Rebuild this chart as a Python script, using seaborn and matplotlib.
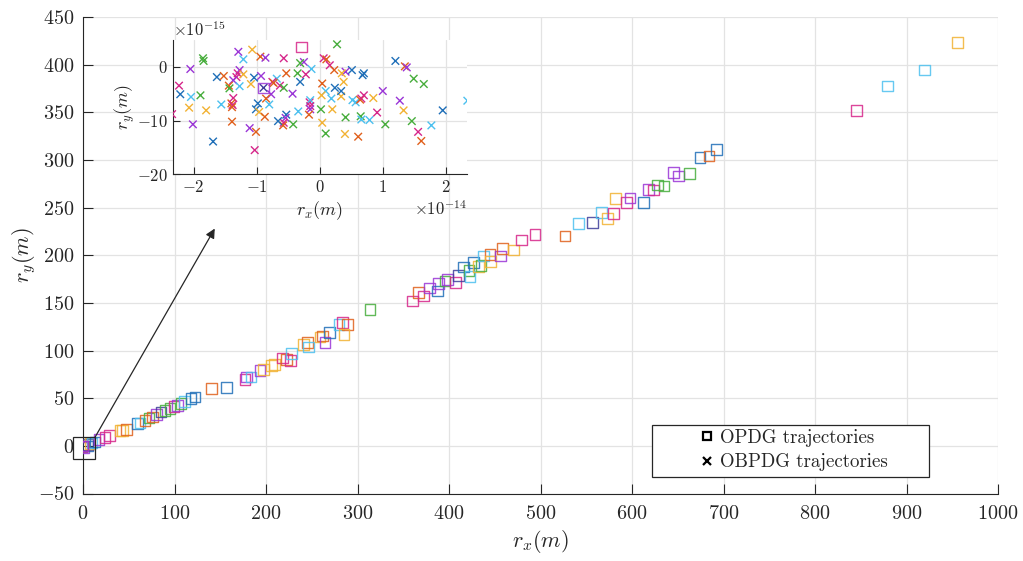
import numpy as np
import pandas as pd
import matplotlib
matplotlib.use("Agg")
import matplotlib.pyplot as plt
import seaborn as sns
from matplotlib.lines import Line2D
from matplotlib.patches import Rectangle

# ---------------------------------------------------------------- data
# trajectory colour table (index -> colour)
traj_colors = ["#1f6fb8", "#e0601c", "#f2b233", "#9a35d6",
               "#47ad3c", "#4cc0ef", "#d6268a", "#3d3d9a"]

# OPDG trajectory end points (m)
opdg_rx = [-1.4, 0.3, 1.0, 5.0, 4.7, 7.7, 10.0, 13.0, 17.5, 24.0, 28.8, 40.4, 43.4,
           47.7, 59.8, 62.3, 67.8, 72.1, 75.8, 80.5, 85.2, 89.6, 95.0, 99.5, 103.5,
           107.0, 110.7, 118.0, 122.4, 140.6, 157.0,
           177.0, 178.9, 183.6, 193.4, 197.0, 206.2, 209.0, 217.8, 222.6, 227.0, 228.0,
           240.8, 245.5, 246.2, 259.0, 261.5, 264.5, 269.2, 279.8, 283.4, 289.3, 285.2,
           313.7,
           359.9, 366.5, 372.0, 378.5, 387.6, 388.3, 395.6, 398.2, 407.3, 410.2, 415.6,
           421.9, 423.0, 426.6, 432.0, 435.0, 437.5, 444.8, 445.6, 456.5, 458.3, 470.3,
           479.5, 494.0, 526.8,
           541.3, 557.0, 566.9, 573.4, 579.6, 582.2, 594.2, 597.8, 612.4, 617.8, 623.3,
           627.7, 635.0, 645.2, 650.6, 662.6, 674.3, 684.2, 692.6,
           845.5, 879.0, 919.5, 956.0,
           -0.29e-14, -0.89e-14]
opdg_ry = [-1.4, -2.0, 0.0, 0.0, 1.2, 2.2, 3.0, 3.9, 6.4, 9.0, 10.9, 16.2, 16.2,
           17.2, 23.2, 23.8, 26.7, 29.1, 30.1, 32.6, 35.4, 37.2, 39.0, 41.4, 42.4,
           44.2, 46.6, 49.5, 51.2, 60.0, 61.0,
           69.4, 72.2, 72.2, 79.2, 80.3, 84.5, 85.5, 92.1, 90.8, 89.7, 96.7,
           106.2, 108.3, 103.7, 114.2, 115.2, 108.3, 118.8, 127.5, 129.3, 127.2, 117.0,
           143.0,
           152.0, 160.8, 157.2, 165.7, 162.5, 170.3, 173.0, 174.5, 171.3, 179.0, 187.7,
           184.2, 178.0, 192.3, 188.4, 189.5, 199.3, 201.0, 193.7, 199.0, 207.0, 205.3,
           215.8, 222.0, 220.3,
           233.3, 234.3, 244.8, 238.5, 243.8, 259.6, 255.4, 260.2, 255.4, 269.0, 268.3,
           273.5, 272.8, 286.9, 283.3, 285.8, 302.6, 304.0, 311.0,
           351.6, 377.5, 394.3, 423.0,
           3.7e-15, -3.9e-15]
opdg_traj = [6, 3, 4, 0, 7, 2, 5, 0, 3, 6, 6, 2, 2,
             1, 0, 5, 1, 4, 1, 3, 7, 4, 4, 6, 3,
             4, 5, 0, 0, 1, 0,
             6, 3, 5, 3, 2, 2, 2, 6, 1, 6, 5,
             2, 1, 5, 2, 1, 3, 0, 5, 6, 1, 2,
             4,
             6, 1, 6, 3, 0, 3, 4, 3, 6, 7, 0,
             4, 5, 0, 2, 4, 5, 1, 2, 3, 1, 2,
             6, 6, 1,
             5, 7, 5, 2, 6, 2, 6, 3, 0, 3, 6,
             4, 4, 3, 3, 4, 0, 1, 0,
             6, 5, 5, 2,
             6, 3]

# OBPDG trajectory end points (rx in 1e-14 m, ry in 1e-15 m)
obpdg_rx_e14 = [0.275, -1.07, -1.29, -0.94, -0.86, -0.57, -1.85, -1.84, -1.21, 0.063,
                0.106, -0.25, -0.31, 1.2, 1.35, 1.38, 0.16, -2.05, -0.13, 0.23,
                0.51, 0.41, 0.35, -0.22, -0.53, -0.35, 0.70, 0.68, -1.63, -1.52,
                -1.27, -1.30, -1.32, -1.21, -1.04, -0.93, -0.68, 1.49, 1.65, -1.37,
                -0.75, -0.73, -1.09, -0.31, 0.04, 0.38, 0.24, -0.63, -0.57, -1.44,
                -1.43, -0.89, -1.27, -2.21, -2.23, -1.89, -2.04, -0.77, -0.43, 0.095,
                0.03, 0.185, 0.34, 0.34, 1.0, 0.52, 0.57, 0.66, 0.64, 0.70,
                0.85, 1.27, 2.34, -2.07, -1.80, -1.56, -1.37, -1.40, -1.38, -1.39,
                -0.98, -1.01, -0.85, -0.80, -0.96, -0.87, -0.53, -0.54, -0.57, -0.58,
                -0.66, -0.42, -0.34, -0.16, -0.15, -0.15, -0.15, -0.17, 0.02, 0.20,
                0.04, 0.095, 0.41, 0.65, 0.66, 0.79, 0.91, 1.04, 1.33, 1.95,
                1.46, 1.77, 1.56, 1.61, 0.40, 0.61, -2.01, -1.39, -1.11, -1.01,
                -1.69, -1.03, -2.34]
obpdg_ry_e15 = [4.2, 3.2, 2.8, 1.9, 1.7, 1.6, 1.6, 1.1, 1.4, 1.6,
                1.4, 0.9, 0.7, 1.1, 0.1, -0.1, 0.3, -0.4, -0.4, -0.6,
                -0.6, -0.9, -1.2, -1.4, -1.2, -1.2, -1.2, -1.55, -1.9, -1.7,
                -0.6, -1.2, -1.9, -1.4, -2.0, -1.7, -2.2, -2.2, -3.2, -2.5,
                -2.8, -3.0, -3.2, -2.8, -3.1, -2.8, -3.9, -3.5, -3.9, -3.5,
                -4.0, -3.9, -3.6, -5.1, -3.5, -5.3, -5.6, -5.1, -5.0, -4.5,
                -5.3, -5.9, -5.5, -4.5, -4.5, -6.2, -6.6, -5.9, -6.1, -5.3,
                -5.8, -6.3, -6.3, -7.6, -8.1, -7.0, -5.8, -6.8, -7.1, -7.5,
                -6.8, -7.9, -5.9, -7.0, -8.4, -9.3, -8.9, -9.5, -10.4, -10.9,
                -10.1, -10.7, -8.3, -6.6, -6.2, -7.3, -7.9, -8.9, -7.9, -7.9,
                -10.4, -12.4, -9.4, -9.2, -9.8, -9.9, -8.5, -10.7, -8.1, -8.1,
                -10.1, -10.9, -12.1, -13.8, -12.5, -13.0, -10.7, -10.2, -11.4, -12.1,
                -13.9, -15.5, -8.8]
obpdg_traj = [4, 2, 3, 1, 3, 6, 4, 4, 5, 6,
              1, 3, 4, 0, 1, 3, 6, 3, 5, 1,
              0, 3, 2, 6, 1, 4, 0, 0, 0, 1,
              3, 6, 6, 2, 0, 3, 5, 4, 4, 3,
              6, 1, 2, 0, 1, 2, 0, 6, 4, 1,
              4, 7, 5, 0, 6, 4, 5, 3, 3, 5,
              2, 5, 2, 0, 3, 5, 5, 6, 1, 6,
              2, 3, 5, 2, 2, 5, 6, 1, 6, 1,
              0, 0, 1, 5, 2, 1, 0, 3, 6, 1,
              0, 4, 5, 6, 5, 6, 3, 1, 4, 2,
              2, 4, 4, 4, 5, 5, 6, 4, 2, 0,
              4, 5, 6, 1, 2, 1, 3, 1, 3, 1,
              0, 6, 6]

x_ticks = [0, 100, 200, 300, 400, 500, 600, 700, 800, 900, 1000]
y_ticks = [-50, 0, 50, 100, 150, 200, 250, 300, 350, 400, 450]
inset_xticks = [-2, -1, 0, 1, 2]
inset_yticks = [-20, -10, 0]

# ---------------------------------------------------------------- style
sns.set_theme(style="white")
plt.rcParams.update({
    "font.family": "serif",
    "font.serif": ["cmr10"],
    "mathtext.fontset": "cm",
    "axes.formatter.use_mathtext": True,
    "axes.unicode_minus": False,
    "axes.edgecolor": "#262626",
    "axes.linewidth": 0.8,
    "grid.color": "#e3e3e3",
    "grid.linewidth": 0.9,
})

pal = {i: c for i, c in enumerate(traj_colors)}

df_opdg = pd.DataFrame({"rx": opdg_rx, "ry": opdg_ry, "traj": opdg_traj})
df_obpdg = pd.DataFrame({"rx": np.array(obpdg_rx_e14) * 1e-14,
                         "ry": np.array(obpdg_ry_e15) * 1e-15,
                         "traj": obpdg_traj})

fig = plt.figure(figsize=(10.23, 5.61), dpi=100)
ax = fig.add_axes([83 / 1023, 67.5 / 561, 915 / 1023, 476.5 / 561])


def hollow_squares(axis, data, size):
    sns.scatterplot(data=data, x="rx", y="ry", hue="traj", palette=pal,
                    marker="s", s=size, linewidth=1.0, legend=False, ax=axis,
                    alpha=0.85, zorder=3)
    coll = axis.collections[-1]
    coll.set_edgecolors(coll.get_facecolors())
    coll.set_facecolors("none")


hollow_squares(ax, df_opdg, 58)

ax.set_xlim(0, 1000)
ax.set_ylim(-50, 450)
ax.set_xticks(x_ticks)
ax.set_yticks(y_ticks)
ax.grid(True, zorder=0)
ax.set_axisbelow(True)
for side in ("top", "right"):
    ax.spines[side].set_visible(False)
ax.tick_params(axis="both", which="both", direction="in", length=7, width=0.8,
               labelsize=14.5, colors="#262626", bottom=True, left=True,
               top=False, right=False)
ax.tick_params(axis="x", pad=8)
ax.tick_params(axis="y", pad=6)
ax.set_xlabel(r"$r_x(m)$", fontsize=16, labelpad=4, color="#262626")
ax.set_ylabel(r"$r_y(m)$", fontsize=16, labelpad=0, color="#262626")

# zoom box around the origin and the pointer to the inset
ax.add_patch(Rectangle((-11, -14.3), 24, 23.1, fill=False, edgecolor="#262626",
                       linewidth=0.9, zorder=4, clip_on=False))
ax.annotate("", xy=(144, 228), xytext=(13, 8.8),
            arrowprops=dict(arrowstyle="-|>", color="#262626", lw=0.9,
                            mutation_scale=14, shrinkA=0, shrinkB=0))

# ---------------------------------------------------------------- inset
ins = fig.add_axes([172.7 / 1023, (561 - 174.3) / 561, 294 / 1023, 134.3 / 561])
ins.set_facecolor("white")
sns.scatterplot(data=df_obpdg, x="rx", y="ry", hue="traj", palette=pal,
                marker="x", s=30, linewidth=1.0, legend=False, ax=ins, zorder=3)
hollow_squares(ins, df_opdg, 58)
ins.set_xlim(-2.33e-14, 2.33e-14)
ins.set_ylim(-20e-15, 5e-15)
ins.set_xticks(np.array(inset_xticks) * 1e-14)
ins.set_yticks(np.array(inset_yticks) * 1e-15)
ins.ticklabel_format(axis="x", style="sci", scilimits=(-14, -14), useMathText=True)
ins.ticklabel_format(axis="y", style="sci", scilimits=(-15, -15), useMathText=True)
ins.grid(True, zorder=0)
ins.set_axisbelow(True)
for side in ("top", "right"):
    ins.spines[side].set_visible(False)
ins.tick_params(axis="both", direction="in", length=5, width=0.8, labelsize=12,
                colors="#262626", bottom=True, left=True, top=False, right=False)
ins.xaxis.get_offset_text().set_fontsize(12)
ins.yaxis.get_offset_text().set_fontsize(12)
ins.set_xlabel(r"$r_x(m)$", fontsize=13, labelpad=3, color="#262626")
ins.set_ylabel(r"$r_y(m)$", fontsize=13, labelpad=0, color="#262626")

# ---------------------------------------------------------------- legend
handles = [
    Line2D([], [], linestyle="none", marker="s", markersize=6,
           markerfacecolor="none", markeredgecolor="black", markeredgewidth=1.6),
    Line2D([], [], linestyle="none", marker="x", markersize=5.5,
           markeredgecolor="black", markeredgewidth=1.6),
]
fig.legend(handles, ["OPDG trajectories", "OBPDG trajectories"],
           loc="center left", bbox_to_anchor=(699 / 1023, 1 - 450 / 561),
           frameon=False, fontsize=13.6, handlelength=0.8, handletextpad=0.3,
           borderpad=0, borderaxespad=0, labelspacing=0.35)
fig.patches.append(Rectangle((652 / 1023, 1 - 477 / 561), 277 / 1023, 52 / 561,
                             transform=fig.transFigure, fill=True,
                             facecolor="white", edgecolor="#262626",
                             linewidth=0.9, zorder=0))

fig.savefig("out.png", dpi=100)
